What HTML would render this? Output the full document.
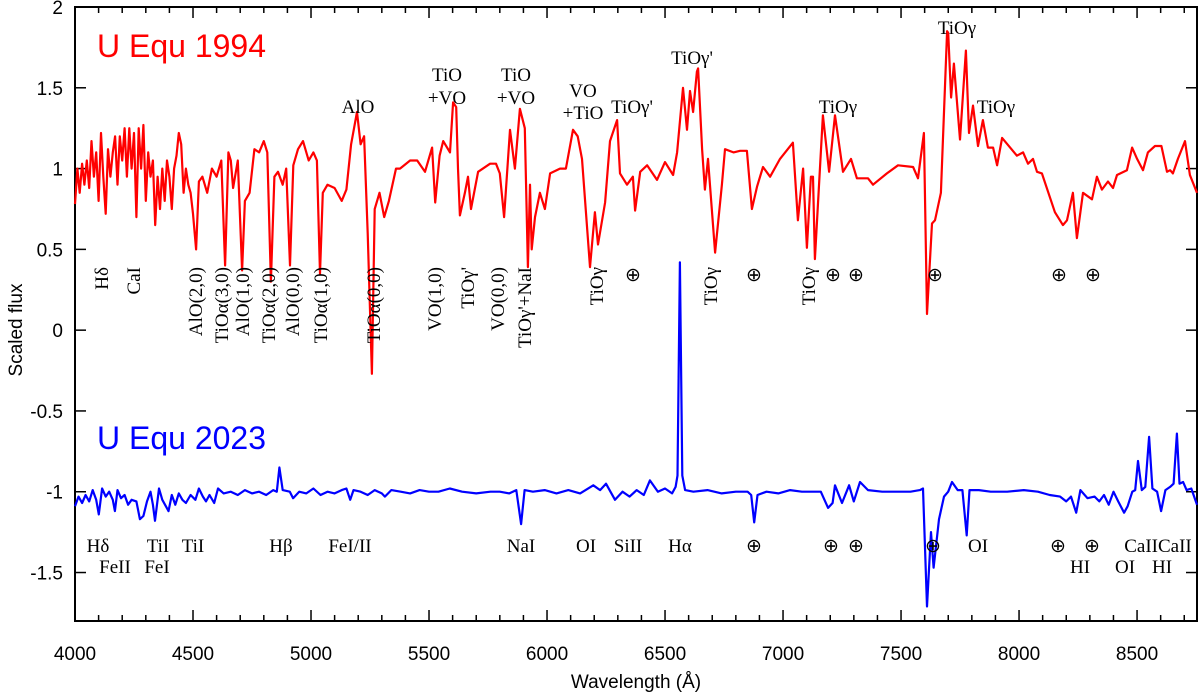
<!DOCTYPE html>
<html><head><meta charset="utf-8">
<style>
html,body{margin:0;padding:0;background:#fff;}
svg{display:block;}
.tk{font-family:"Liberation Sans","DejaVu Sans",sans-serif;font-size:19px;fill:#000;}
.an{font-family:"Liberation Serif",serif;font-size:19px;fill:#000;}
</style></head>
<body>
<svg id="chart" width="1200" height="693" viewBox="0 0 1200 693" xmlns="http://www.w3.org/2000/svg">
<g id="axes"></g>
<g id="series"></g>
<g id="notes"></g>
<text x="97" y="57" fill="#ff0000" font-family="Liberation Sans, sans-serif" font-size="32">U Equ 1994</text>
<text x="97" y="449" fill="#0000ff" font-family="Liberation Sans, sans-serif" font-size="32">U Equ 2023</text>
<text class="tk" x="0" y="0" transform="translate(22,330) rotate(-90)" text-anchor="middle">Scaled flux</text>
<text class="tk" x="636" y="688" text-anchor="middle">Wavelength (Å)</text>
</svg>
<script>
const redWave=[4000,4010,4020,4030,4040,4050,4060,4070,4080,4090,4100,4110,4120,4130,4140,4150,4160,4170,4180,4190,4200,4210,4220,4230,4240,4250,4260,4270,4280,4290,4300,4310,4320,4330,4340,4350,4360,4370,4380,4390,4400,4410,4420,4430,4440,4450,4460,4470,4480,4490,4500,4513,4525,4540,4560,4580,4600,4620,4636,4650,4660,4670,4690,4708,4720,4740,4760,4780,4800,4815,4830,4845,4860,4880,4895,4911,4925,4945,4966,4990,5010,5025,5038,5050,5070,5100,5130,5150,5170,5195,5210,5225,5240,5258,5270,5290,5310,5330,5360,5377,5420,5450,5483,5513,5526,5545,5560,5589,5602,5615,5623,5631,5652,5665,5678,5708,5759,5784,5800,5818,5843,5864,5885,5906,5919,5928,5935,5949,5970,5991,6013,6055,6080,6110,6130,6148,6182,6203,6216,6246,6267,6297,6309,6339,6364,6373,6395,6424,6466,6500,6534,6551,6576,6593,6606,6619,6635,6640,6657,6669,6682,6712,6741,6754,6790,6818,6847,6868,6890,6915,6945,6987,7042,7063,7085,7101,7118,7127,7135,7169,7195,7220,7254,7288,7313,7360,7381,7440,7487,7551,7572,7597,7610,7631,7644,7669,7695,7700,7712,7724,7750,7775,7788,7805,7826,7847,7868,7890,7907,7928,7991,8017,8038,8059,8076,8097,8152,8186,8203,8228,8245,8271,8309,8330,8351,8377,8398,8415,8457,8479,8500,8525,8546,8576,8603,8627,8640,8652,8673,8703,8724,8754];
const redFlux=[0.78,1.0,0.85,1.03,0.9,1.05,0.88,1.17,0.95,1.1,0.8,1.22,0.95,0.72,1.12,0.95,1.1,1.2,0.9,1.2,1.05,1.25,0.95,1.25,1.0,1.22,0.7,1.25,1.0,1.27,0.8,1.1,0.95,1.05,0.65,0.95,0.75,1.0,0.8,1.05,0.95,0.75,1.0,1.08,1.22,1.15,0.85,1.0,0.9,0.85,0.72,0.5,0.92,0.95,0.85,1.0,0.95,1.05,0.4,1.1,1.05,0.88,1.05,0.37,0.8,0.85,1.12,1.1,1.17,1.1,0.3,0.95,0.98,0.9,1.0,0.4,1.02,1.12,1.17,1.05,1.1,1.05,0.35,0.85,0.9,0.88,0.8,0.87,1.15,1.35,1.15,1.2,0.6,-0.27,0.75,0.85,0.7,0.8,1.0,1.0,1.05,1.05,0.98,1.13,0.79,1.08,1.17,1.1,1.41,1.38,1.0,0.71,0.85,0.95,0.75,0.98,1.03,1.03,0.97,0.7,1.24,1.0,1.37,1.25,0.39,0.9,0.5,0.7,0.85,0.75,0.97,1.0,1.0,1.24,1.2,1.06,0.39,0.73,0.53,0.79,1.17,1.3,0.97,0.9,0.95,0.74,0.98,1.02,0.93,1.04,0.96,1.1,1.5,1.24,1.48,1.35,1.6,1.62,1.12,0.87,1.06,0.48,0.9,1.12,1.1,1.11,1.11,0.75,0.89,1.01,0.95,1.06,1.16,0.68,1.0,0.51,0.95,0.95,0.44,1.33,0.98,1.33,0.98,1.06,0.94,0.94,0.9,0.97,1.02,1.01,0.94,1.22,0.1,0.66,0.68,0.85,1.85,1.84,1.44,1.65,1.18,1.73,1.22,1.39,1.14,1.3,1.13,1.13,1.02,1.19,1.08,1.1,1.03,1.06,0.98,0.97,0.73,0.65,0.68,0.85,0.57,0.85,0.81,0.95,0.87,0.92,0.88,0.96,0.99,1.13,1.06,0.99,1.1,1.14,1.14,0.98,0.99,0.97,1.06,1.17,0.96,0.85];
const blueWave=[4000,4015,4030,4045,4060,4075,4090,4101,4115,4130,4145,4160,4169,4180,4195,4210,4225,4240,4260,4275,4290,4305,4320,4330,4339,4356,4370,4385,4396,4410,4425,4440,4455,4470,4490,4510,4525,4542,4555,4570,4590,4606,4630,4660,4690,4720,4750,4780,4810,4840,4855,4866,4880,4910,4924,4950,4980,5010,5040,5070,5100,5130,5150,5166,5180,5210,5240,5270,5300,5313,5340,5380,5420,5460,5500,5540,5588,5640,5700,5760,5800,5840,5870,5890,5905,5940,5990,6040,6090,6140,6196,6225,6250,6288,6320,6350,6380,6410,6436,6470,6500,6530,6545,6553,6563,6573,6585,6620,6680,6740,6800,6850,6865,6878,6892,6930,6980,7030,7080,7130,7160,7191,7210,7220,7250,7280,7300,7326,7360,7420,7480,7540,7580,7593,7610,7627,7638,7661,7682,7700,7716,7740,7760,7778,7790,7830,7880,7950,8020,8080,8130,8174,8200,8220,8242,8260,8290,8320,8340,8360,8380,8400,8420,8445,8460,8480,8492,8504,8520,8535,8551,8565,8585,8602,8620,8640,8655,8669,8680,8695,8710,8730,8754];
const blueFlux=[-1.09,-1.03,-1.07,-1.02,-1.06,-0.99,-1.05,-1.14,-0.98,-1.03,-1.0,-1.05,-1.12,-0.99,-1.04,-1.02,-1.08,-1.05,-1.06,-1.17,-1.15,-1.06,-1.0,-1.08,-1.18,-0.98,-1.05,-1.09,-1.12,-1.02,-1.08,-1.01,-1.05,-1.07,-1.02,-1.05,-0.98,-1.03,-1.06,-1.02,-1.07,-0.98,-1.01,-1.0,-1.02,-0.99,-1.01,-1.0,-1.02,-0.99,-1.0,-0.85,-0.99,-1.0,-1.04,-1.0,-1.01,-0.98,-1.02,-1.0,-1.01,-0.99,-0.98,-1.05,-0.99,-1.0,-1.02,-0.99,-1.01,-1.03,-0.99,-1.0,-1.01,-0.99,-1.0,-1.0,-0.98,-1.0,-1.01,-1.0,-1.0,-1.01,-0.99,-1.2,-0.99,-1.0,-0.99,-1.01,-0.99,-1.01,-0.96,-0.99,-0.95,-1.05,-1.0,-1.03,-0.99,-1.02,-0.93,-1.0,-0.98,-1.01,-0.97,-0.9,0.42,-0.9,-0.99,-1.0,-0.99,-1.01,-1.0,-1.0,-1.02,-1.19,-1.02,-1.0,-1.01,-0.99,-1.0,-1.0,-1.0,-1.1,-1.07,-0.96,-1.07,-0.96,-1.06,-0.94,-0.99,-1.0,-1.0,-1.0,-0.99,-0.98,-1.71,-1.25,-1.47,-1.17,-1.03,-1.0,-0.94,-0.99,-0.99,-1.27,-0.99,-0.99,-1.0,-1.0,-0.99,-1.0,-1.02,-1.03,-1.06,-1.03,-1.13,-0.99,-1.04,-1.03,-1.06,-1.02,-1.08,-1.0,-1.06,-1.13,-1.09,-1.0,-0.99,-0.81,-0.99,-0.97,-0.66,-0.98,-1.0,-1.12,-0.99,-0.97,-0.95,-0.64,-0.95,-0.94,-0.99,-0.98,-1.08];
const xTicks=[4000,4500,5000,5500,6000,6500,7000,7500,8000,8500];
const yTicks=[-1.5,-1,-0.5,0,0.5,1,1.5,2];
const yTickLabels=["-1.5","-1","-0.5","0","0.5","1","1.5","2"];

const L=75,R=1197,T=7,B=621,X0=4000,X1=8754,Y0=-1.8,Y1=2;
function sx(w){return L+(w-X0)*(R-L)/(X1-X0);}
function sy(v){return B-(v-Y0)*(B-T)/(Y1-Y0);}
const NS="http://www.w3.org/2000/svg";
function mk(tag,parent,attrs){const e=document.createElementNS(NS,tag);for(const k in attrs)e.setAttribute(k,attrs[k]);parent.appendChild(e);return e;}
const ax=document.getElementById('axes');
let frame=mk('rect',ax,{x:L,y:T,width:R-L,height:B-T,fill:'none',stroke:'#000','stroke-width':2});


for(let w=4000;w<=8700;w+=100){
  const major=(w%500===0);const len=major?11:6;const x=sx(w);
  let t1=mk('line',ax,{x1:x,x2:x,y1:B,y2:B-len,stroke:'#000','stroke-width':1.5});
  
  
  let t2=mk('line',ax,{x1:x,x2:x,y1:T,y2:T+len,stroke:'#000','stroke-width':1.5});
  
  
}
xTicks.forEach(w=>{
  let t=mk('text',ax,{x:sx(w),y:660,'text-anchor':'middle',class:'tk'});
  t.textContent=String(w);
  
  
});
yTicks.forEach((v,i)=>{
  const y=sy(v);
  let a=mk('line',ax,{x1:L,x2:L+11,y1:y,y2:y,stroke:'#000','stroke-width':1.5});
  
  
  let b=mk('line',ax,{x1:R,x2:R-11,y1:y,y2:y,stroke:'#000','stroke-width':1.5});
  
  
  let t=mk('text',ax,{x:63,y:y+7,'text-anchor':'end',class:'tk'});
  t.textContent=yTickLabels[i];
  
  
});
const sg=document.getElementById('series');
function path(ws,fs){return ws.map((w,i)=>(i?'L':'M')+sx(w).toFixed(1)+' '+sy(fs[i]).toFixed(1)).join(' ');}
let rp=mk('path',sg,{d:path(redWave,redFlux),fill:'none',stroke:'#ff0000','stroke-width':2.2,'stroke-linejoin':'round'});


let bp=mk('path',sg,{d:path(blueWave,blueFlux),fill:'none',stroke:'#0000ff','stroke-width':2.2,'stroke-linejoin':'round'});



const nt=document.getElementById('notes');
const horiz=[["AlO",358,113],["TiO",447,81],["+VO",447,104],["TiO",516,81],["+VO",516,104],["VO",583,97],["+TiO",583,119],["TiOγ'",632,113],["TiOγ'",692,64],["TiOγ",838,113],["TiOγ",957,34],["TiOγ",996,113],
["⊕",633,281],["⊕",754,281],["⊕",833,281],["⊕",856,281],["⊕",935,281],["⊕",1059,281],["⊕",1093,281],
["Hδ",98,552],["TiI",158,552],["TiI",193,552],["Hβ",281,552],["FeI/II",350,552],["NaI",521,552],["OI",586,552],["SiII",628,552],["Hα",680,552],["⊕",754,552],["⊕",831,552],["⊕",856,552],["⊕",933,552],["OI",978,552],["⊕",1058,552],["⊕",1092,552],["CaIICaII",1158,552],
["FeII",115,573],["FeI",157,573],["HI",1080,573],["OI",1125,573],["HI",1162,573]];
horiz.forEach(a=>{
  let t=mk('text',nt,{x:a[1],y:a[2],'text-anchor':'middle',class:'an'});
  t.textContent=a[0];
  
  
});
const vert=[["Hδ",101],["CaI",133],["AlO(2,0)",195],["TiOα(3,0)",221],["AlO(1,0)",242],["TiOα(2,0)",268],["AlO(0,0)",292],["TiOα(1,0)",320],["TiOα(0,0)",373],["VO(1,0)",434],["TiOγ'",467],["VO(0,0)",497],["TiOγ'+NaI",524],["TiOγ",596],["TiOγ",710],["TiOγ",808]];
vert.forEach(a=>{
  let t=mk('text',nt,{x:0,y:0,'text-anchor':'end',class:'an',transform:'translate('+(a[1]+7)+',267) rotate(-90)'});
  t.textContent=a[0];
  
  
});
</script>
</body></html>
